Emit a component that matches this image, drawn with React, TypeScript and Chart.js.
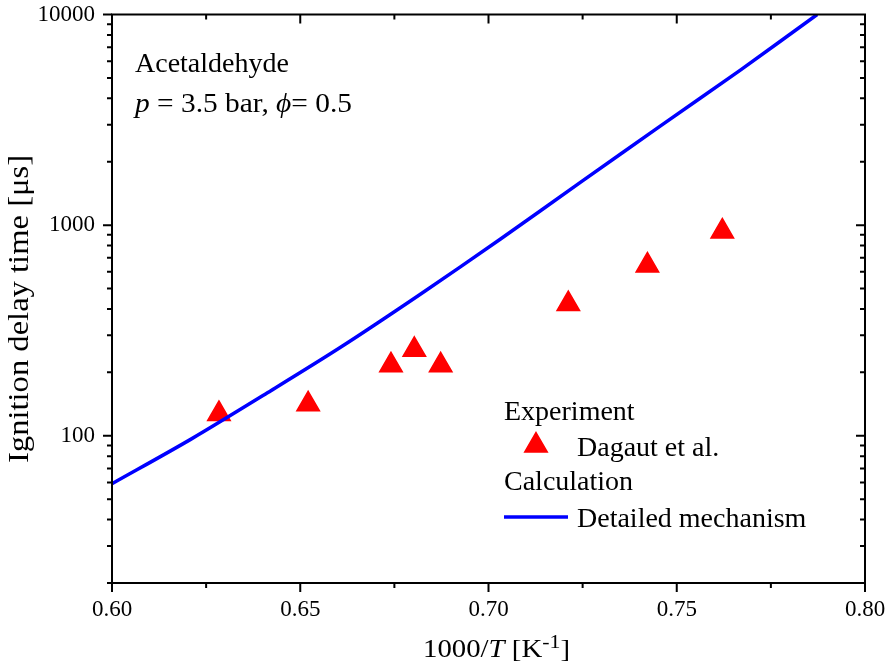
import React, { useEffect, useRef } from "react";
import { Chart, registerables } from "chart.js";

Chart.register(...registerables);

// ---- data ----
const expX = [0.6284, 0.6521, 0.6741, 0.6803, 0.6873, 0.7212, 0.7422, 0.7621];
const expY = [127, 141, 216, 256, 216, 422, 644, 934];

const calcX = [0.6, 0.621, 0.6422, 0.6607, 0.682, 0.7032, 0.7244, 0.7456, 0.7668, 0.7873];
const calcY = [59.2, 96.4, 163.7, 263, 471, 859, 1596, 2951, 5433, 10000];

const xTickValues = [0.6, 0.65, 0.7, 0.75, 0.8];
const yTickValues = [100, 1000, 10000];

const SERIF = '"Liberation Serif", "Times New Roman", serif';

const decorPlugin = {
  id: "decor",
  afterDraw(chart: any) {
    const ctx = chart.ctx as CanvasRenderingContext2D;
    const xs = chart.scales.x;
    const ys = chart.scales.y;
    const { left, right, top, bottom } = chart.chartArea;
    ctx.save();
    ctx.strokeStyle = "#000";
    ctx.lineWidth = 2;
    ctx.lineCap = "butt";
    // frame
    ctx.strokeRect(left, top, right - left, bottom - top);
    // x ticks
    for (let i = 0; i <= 8; i++) {
      const v = 0.6 + i * 0.025;
      const px = xs.getPixelForValue(v);
      const major = i % 2 === 0;
      const len = major ? 9 : 5;
      ctx.beginPath();
      ctx.moveTo(px, bottom);
      ctx.lineTo(px, bottom + len);
      ctx.moveTo(px, top);
      ctx.lineTo(px, top + len);
      ctx.stroke();
    }
    // y ticks
    for (const dec of [10, 100, 1000]) {
      for (let m = 1; m <= 9; m++) {
        const v = dec * m;
        if (v < 20) continue;
        const py = ys.getPixelForValue(v);
        const major = m === 1;
        const len = major ? 9 : 5;
        ctx.beginPath();
        ctx.moveTo(left, py);
        ctx.lineTo(left - len, py);
        ctx.moveTo(right, py);
        ctx.lineTo(right - len, py);
        ctx.stroke();
      }
    }
    {
      const py = ys.getPixelForValue(10000);
      ctx.beginPath();
      ctx.moveTo(left, py);
      ctx.lineTo(left - 9, py);
      ctx.stroke();
    }

    ctx.fillStyle = "#000";
    ctx.textBaseline = "alphabetic";
    ctx.textAlign = "left";

    // annotation
    ctx.font = `28px ${SERIF}`;
    ctx.fillText("Acetaldehyde", 135, 72);
    const aParts: [string, boolean][] = [
      ["p", true],
      [" = 3.5 bar, ", false],
      ["\u03D5", true],
      ["= 0.5", false],
    ];
    let aw = 0;
    for (const [t, it] of aParts) {
      ctx.font = `${it ? "italic " : ""}28px ${SERIF}`;
      aw += ctx.measureText(t).width;
    }
    ctx.save();
    ctx.translate(135, 112);
    ctx.scale(217 / aw, 1);
    let ax = 0;
    for (const [t, it] of aParts) {
      ctx.font = `${it ? "italic " : ""}28px ${SERIF}`;
      ctx.fillText(t, ax, 0);
      ax += ctx.measureText(t).width;
    }
    ctx.restore();

    // legend
    ctx.font = `28px ${SERIF}`;
    ctx.fillText("Experiment", 504, 420);
    ctx.fillText("Dagaut et al.", 577, 456);
    ctx.fillText("Calculation", 504, 490);
    ctx.fillText("Detailed mechanism", 577, 527);
    // legend triangle
    const tcx = 536, tcy = 445.5, r = 13;
    ctx.fillStyle = "#ff0000";
    ctx.strokeStyle = "#ff0000";
    ctx.lineWidth = 1.5;
    ctx.beginPath();
    for (let k = 0; k < 3; k++) {
      const a = (k * 2 * Math.PI) / 3;
      const vx = tcx + Math.sin(a) * r;
      const vy = tcy - Math.cos(a) * r;
      if (k === 0) ctx.moveTo(vx, vy);
      else ctx.lineTo(vx, vy);
    }
    ctx.closePath();
    ctx.fill();
    ctx.stroke();
    // legend line
    ctx.strokeStyle = "#0000ff";
    ctx.lineWidth = 3.5;
    ctx.beginPath();
    ctx.moveTo(504, 517);
    ctx.lineTo(568, 517);
    ctx.stroke();

    // x title
    ctx.fillStyle = "#000";
    const parts: [string, boolean, number, number][] = [
      ["1000/", false, 25, 0],
      ["T", true, 25, 0],
      [" [K", false, 25, 0],
      ["-1", false, 19, -9],
      ["]", false, 25, 0],
    ];
    let total = 0;
    for (const [t, it, sz] of parts) {
      ctx.font = `${it ? "italic " : ""}${sz}px ${SERIF}`;
      total += ctx.measureText(t).width;
    }
    const sx = 147 / total;
    ctx.save();
    ctx.translate(423, 657);
    ctx.scale(sx, 1);
    let cx = 0;
    for (const [t, it, sz, dy] of parts) {
      ctx.font = `${it ? "italic " : ""}${sz}px ${SERIF}`;
      ctx.fillText(t, cx, dy);
      cx += ctx.measureText(t).width;
    }
    ctx.restore();

    // y title
    ctx.save();
    ctx.font = `29px ${SERIF}`;
    const yt = "Ignition delay time [\u03BCs]";
    const w = ctx.measureText(yt).width;
    const sy = 308 / w;
    ctx.translate(28, 463);
    ctx.rotate(-Math.PI / 2);
    ctx.scale(sy, 1);
    ctx.fillText(yt, 0, 0);
    ctx.restore();

    ctx.restore();
  },
};

export default function App() {
  const ref = useRef<HTMLCanvasElement | null>(null);
  useEffect(() => {
    document.body.style.margin = "0";
    const canvas = ref.current!;
    const chart = new Chart(canvas, {
      type: "scatter",
      data: {
        datasets: [
          {
            label: "Detailed mechanism",
            data: calcX.map((x, i) => ({ x, y: calcY[i] })),
            showLine: true,
            borderColor: "#0000ff",
            backgroundColor: "#0000ff",
            borderWidth: 3.5,
            pointRadius: 0,
            tension: 0.3,
            fill: false,
          } as any,
          {
            label: "Dagaut et al.",
            data: expX.map((x, i) => ({ x, y: expY[i] })),
            showLine: false,
            pointStyle: "triangle",
            pointRadius: 13,
            backgroundColor: "#ff0000",
            borderColor: "#ff0000",
            borderWidth: 1.5,
          } as any,
        ],
      },
      options: {
        responsive: false,
        animation: false,
        layout: { padding: { top: 13, right: 22, left: 0, bottom: 0 } },
        plugins: { legend: { display: false }, tooltip: { enabled: false } },
        scales: {
          x: {
            type: "linear",
            min: 0.6,
            max: 0.8,
            afterFit: (s: any) => {
              s.height = 79;
              s.paddingLeft = 0;
              s.paddingRight = 0;
            },
            afterBuildTicks: (s: any) => {
              s.ticks = xTickValues.map((v) => ({ value: v }));
            },
            grid: { display: false, drawTicks: false },
            border: { display: false },
            ticks: {
              callback: (v: any) => Number(v).toFixed(2),
              font: { family: SERIF, size: 23 },
              color: "#000",
              padding: 13,
              maxRotation: 0,
              autoSkip: false,
            },
          },
          y: {
            type: "logarithmic",
            min: 20,
            max: 10000,
            afterFit: (s: any) => {
              s.width = 112;
              s.paddingTop = 0;
              s.paddingBottom = 0;
            },
            afterBuildTicks: (s: any) => {
              s.ticks = yTickValues.map((v) => ({ value: v }));
            },
            grid: { display: false, drawTicks: false },
            border: { display: false },
            ticks: {
              callback: (v: any) => String(v),
              font: { family: SERIF, size: 23 },
              color: "#000",
              padding: 17,
              autoSkip: false,
            },
          },
        },
      } as any,
      plugins: [decorPlugin],
    });
    return () => chart.destroy();
  }, []);
  return (
    <div style={{ width: 887, height: 662, position: "relative" }}>
      <canvas ref={ref} width={887} height={662} style={{ display: "block" }} />
    </div>
  );
}
